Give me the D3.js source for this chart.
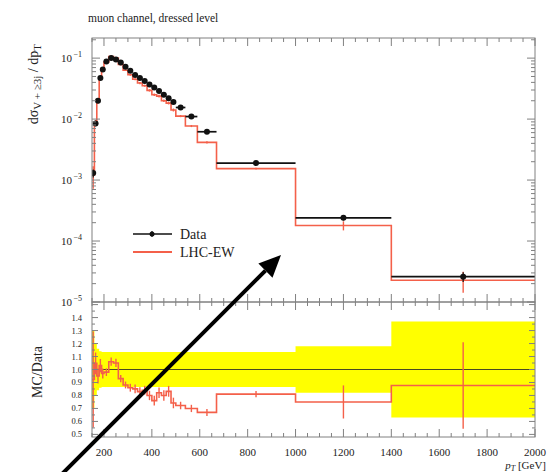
<!DOCTYPE html>
<html>
<head>
<meta charset="utf-8">
<script src="https://cdn.jsdelivr.net/npm/d3@7"></script>
<style>
body { margin: 0; background: #fff; }
svg { display: block; font-family: "Liberation Serif", "DejaVu Serif", serif; }
</style>
</head>
<body>
<div class="canva"></div>
<script>
// bin edges (GeV)
const binEdges = [150,160,170,180,190,200,220,240,260,280,300,320,340,360,380,400,420,440,460,480,500,540,590,670,1000,1400,2000];
// measured cross section per bin
const dataVals = [1.3e-3,8.5e-3,2.0e-2,4.7e-2,6.5e-2,8.8e-2,0.100,0.095,0.085,0.072,0.062,0.053,0.047,0.042,0.037,0.033,0.029,0.025,0.022,0.019,0.0155,0.011,0.0062,0.0019,0.00024,0.000026];
// relative data uncertainty (yellow band)
const dataRelErr = [0.30,0.20,0.16,0.14,0.135,0.135,0.135,0.135,0.135,0.135,0.135,0.135,0.135,0.135,0.135,0.135,0.135,0.135,0.135,0.135,0.135,0.135,0.135,0.135,0.18,0.37];
// LHC-EW prediction per bin
const mcVals = [1.2e-3,8.9e-3,0.019,0.0484,0.063,0.0862,0.106,0.0998,0.079,0.0634,0.0533,0.0451,0.039,0.0353,0.0296,0.0251,0.0238,0.020,0.0183,0.0141,0.0112,0.0077,0.00415,0.00154,0.00018,0.0000228];
const mcRelErr = [0.40,0.08,0.06,0.05,0.04,0.03,0.03,0.03,0.03,0.03,0.035,0.04,0.04,0.04,0.045,0.05,0.05,0.05,0.05,0.055,0.04,0.04,0.04,0.03,0.17,0.38];

const xTickLabels = [200,400,600,800,1000,1200,1400,1600,1800,2000];
const yDecades = [-5,-4,-3,-2,-1];
const ratioTickLabels = [0.5,0.6,0.7,0.8,0.9,1.0,1.1,1.2,1.3,1.4];

const W = 548, H = 472;
const pLeft = 92, pRight = 535, pTop = 38, pMid = 302, pBottom = 437;
const mcColor = "#f4604a";
const frameColor = "#808080";

const x = d3.scaleLinear().domain([150, 2000]).range([pLeft, pRight]);
const y = d3.scaleLog().domain([1e-5, Math.pow(10, -0.67)]).range([pMid, pTop]);
const yr = d3.scaleLinear().domain([0.48, 1.52]).range([pBottom, pMid]);

const svg = d3.select(".canva").append("svg")
              .attr("width", W)
              .attr("height", H);

const defs = svg.append("defs");
defs.append("clipPath").attr("id", "clipMain").append("rect")
    .attr("x", pLeft).attr("y", pTop).attr("width", pRight - pLeft).attr("height", pMid - pTop);
defs.append("clipPath").attr("id", "clipRatio").append("rect")
    .attr("x", pLeft).attr("y", pMid).attr("width", pRight - pLeft).attr("height", pBottom - pMid);

const bins = dataVals.map((d, i) => ({
  lo: binEdges[i], hi: binEdges[i+1], c: (binEdges[i] + binEdges[i+1]) / 2,
  data: d, derr: dataRelErr[i], mc: mcVals[i], merr: mcRelErr[i], ratio: mcVals[i] / d
}));
const last = bins[bins.length - 1];
const steps = f => bins.map(b => [b.lo, f(b)]).concat([[last.hi, f(last)]]);

//---------------- ratio panel
const gr = svg.append("g").attr("clip-path", "url(#clipRatio)");

gr.append("path")
  .datum(steps(b => b.derr))
  .attr("fill", "#ffff00")
  .attr("d", d3.area().x(d => x(d[0])).y0(d => yr(1 - d[1])).y1(d => yr(1 + d[1])).curve(d3.curveStepAfter));

gr.append("line")
  .attr("x1", pLeft).attr("x2", pRight)
  .attr("y1", yr(1)).attr("y2", yr(1))
  .attr("stroke", "#4a4a20").attr("stroke-width", 1);

gr.append("path")
  .datum(steps(b => b.ratio))
  .attr("fill", "none").attr("stroke", mcColor).attr("stroke-width", 1.6)
  .attr("d", d3.line().x(d => x(d[0])).y(d => yr(d[1])).curve(d3.curveStepAfter));

gr.selectAll("line.rerr").data(bins).enter().append("line")
  .attr("class", "rerr")
  .attr("x1", d => x(d.c)).attr("x2", d => x(d.c))
  .attr("y1", d => yr(d.ratio * (1 - d.merr)))
  .attr("y2", d => yr(d.ratio * (1 + d.merr)))
  .attr("stroke", mcColor).attr("stroke-width", 1.4);

//---------------- main panel
const gm = svg.append("g").attr("clip-path", "url(#clipMain)");

gm.append("path")
  .datum(steps(b => b.mc))
  .attr("fill", "none").attr("stroke", mcColor).attr("stroke-width", 1.6)
  .attr("d", d3.line().x(d => x(d[0])).y(d => y(d[1])).curve(d3.curveStepAfter));

gm.selectAll("line.merr").data(bins).enter().append("line")
  .attr("class", "merr")
  .attr("x1", d => x(d.c)).attr("x2", d => x(d.c))
  .attr("y1", d => y(d.mc * (1 - d.merr)))
  .attr("y2", d => y(d.mc * (1 + d.merr)))
  .attr("stroke", mcColor).attr("stroke-width", 1.4);

// data: horizontal bin bars, vertical errors, markers
gm.selectAll("line.dh").data(bins).enter().append("line")
  .attr("class", "dh")
  .attr("x1", d => x(d.lo)).attr("x2", d => x(d.hi))
  .attr("y1", d => y(d.data)).attr("y2", d => y(d.data))
  .attr("stroke", "#111").attr("stroke-width", 1.7);

gm.selectAll("line.dv").data(bins).enter().append("line")
  .attr("class", "dv")
  .attr("x1", d => x(d.c)).attr("x2", d => x(d.c))
  .attr("y1", d => y(d.data * (1 - d.derr * 0.5)))
  .attr("y2", d => y(d.data * (1 + d.derr * 0.5)))
  .attr("stroke", "#111").attr("stroke-width", 1.2);

gm.selectAll("circle").data(bins).enter().append("circle")
  .attr("cx", d => x(d.c)).attr("cy", d => y(d.data))
  .attr("r", 3).attr("fill", "#111");

//---------------- frames and ticks
const frame = svg.append("g").attr("stroke", frameColor).attr("fill", "none");
frame.append("rect").attr("x", pLeft).attr("y", pTop).attr("width", pRight - pLeft).attr("height", pMid - pTop);
frame.append("rect").attr("x", pLeft).attr("y", pMid).attr("width", pRight - pLeft).attr("height", pBottom - pMid);

const xMinor = d3.range(150, 2001, 50);
const isMajorX = v => v % 200 === 0;
// x ticks: top of main, both sides of divider, bottom of ratio
[[pTop, 1], [pMid, -1], [pMid, 1], [pBottom, -1]].forEach(([yy, dir]) => {
  frame.selectAll(null).data(xMinor).enter().append("line")
    .attr("x1", d => x(d)).attr("x2", d => x(d))
    .attr("y1", yy).attr("y2", d => yy + dir * (isMajorX(d) ? 8 : 4));
});

// main y log ticks
const yLogTicks = [];
yDecades.forEach(e => d3.range(1, 10).forEach(k => {
  const v = k * Math.pow(10, e);
  if (v >= 1e-5 && v <= y.domain()[1]) yLogTicks.push({ v: v, major: k === 1 });
}));
[[pLeft, 1], [pRight, -1]].forEach(([xx, dir]) => {
  frame.selectAll(null).data(yLogTicks).enter().append("line")
    .attr("x1", xx).attr("x2", d => xx + dir * (d.major ? 8 : 4))
    .attr("y1", d => y(d.v)).attr("y2", d => y(d.v));
});

// ratio y ticks
const rTicks = d3.range(0.5, 1.51, 0.05).map(v => ({ v: v, major: Math.abs(v * 10 - Math.round(v * 10)) < 1e-6 }));
[[pLeft, 1], [pRight, -1]].forEach(([xx, dir]) => {
  frame.selectAll(null).data(rTicks).enter().append("line")
    .attr("x1", xx).attr("x2", d => xx + dir * (d.major ? 6 : 3))
    .attr("y1", d => yr(d.v)).attr("y2", d => yr(d.v));
});

//---------------- labels
const txt = svg.append("g").attr("fill", "#222");

txt.selectAll("text.xl").data(xTickLabels).enter().append("text")
  .attr("class", "xl")
  .attr("x", d => x(d)).attr("y", 456)
  .attr("text-anchor", "middle").attr("font-size", 11)
  .text(d => d);

const yl = txt.selectAll("text.yl").data(yDecades).enter().append("text")
  .attr("class", "yl")
  .attr("x", 82).attr("y", d => y(Math.pow(10, d)) + 4)
  .attr("text-anchor", "end").attr("font-size", 11);
yl.append("tspan").text("10");
yl.append("tspan").attr("dy", -5).attr("font-size", 8).text(d => "\u2009\u2212" + Math.abs(d));

txt.selectAll("text.rl").data(ratioTickLabels).enter().append("text")
  .attr("class", "rl")
  .attr("x", 82).attr("y", d => yr(d) + 3)
  .attr("text-anchor", "end").attr("font-size", 8.5)
  .text(d => d.toFixed(1));

txt.append("text")
  .attr("x", 88).attr("y", 22).attr("font-size", 11.5)
  .text("muon channel, dressed level");

const ylab = txt.append("text")
  .attr("transform", "translate(38,44) rotate(-90)")
  .attr("text-anchor", "end").attr("font-size", 14);
ylab.append("tspan").text("d\u03C3");
ylab.append("tspan").attr("dy", 3).attr("font-size", 11).text("V + \u22653j");
ylab.append("tspan").attr("dy", -3).text(" / dp");
ylab.append("tspan").attr("dy", 3).attr("font-size", 11).text("T");

txt.append("text")
  .attr("transform", "translate(42,372) rotate(-90)")
  .attr("text-anchor", "middle").attr("font-size", 14)
  .text("MC/Data");

const xlab = txt.append("text")
  .attr("x", 546).attr("y", 469)
  .attr("text-anchor", "end").attr("font-size", 11);
xlab.append("tspan").attr("font-style", "italic").text("p");
xlab.append("tspan").attr("dy", 2).attr("font-size", 8).attr("font-style", "italic").text("T");
xlab.append("tspan").attr("dy", -2).text(" [GeV]");

//---------------- legend
const leg = svg.append("g");
leg.append("line").attr("x1", 133).attr("x2", 172).attr("y1", 234).attr("y2", 234)
   .attr("stroke", "#111").attr("stroke-width", 1.5);
leg.append("line").attr("x1", 152).attr("x2", 152).attr("y1", 231).attr("y2", 237)
   .attr("stroke", "#111").attr("stroke-width", 1.2);
leg.append("circle").attr("cx", 152).attr("cy", 234).attr("r", 2.5).attr("fill", "#111");
leg.append("text").attr("x", 180).attr("y", 239).attr("font-size", 14).attr("fill", "#222").text("Data");
leg.append("line").attr("x1", 133).attr("x2", 172).attr("y1", 252).attr("y2", 252)
   .attr("stroke", mcColor).attr("stroke-width", 2.2);
leg.append("text").attr("x", 180).attr("y", 257).attr("font-size", 14).attr("fill", "#222").text("LHC-EW");

//---------------- annotation arrow
const tip = [281, 255], tail = [50, 486];
const len = Math.hypot(tip[0] - tail[0], tip[1] - tail[1]);
const u = [(tip[0] - tail[0]) / len, (tip[1] - tail[1]) / len];
const base = [tip[0] - 22 * u[0], tip[1] - 22 * u[1]];
const n = [-u[1], u[0]];
svg.append("line")
   .attr("x1", tail[0]).attr("y1", tail[1]).attr("x2", base[0]).attr("y2", base[1])
   .attr("stroke", "#000").attr("stroke-width", 4);
svg.append("polygon")
   .attr("points", [tip, [base[0] + 10 * n[0], base[1] + 10 * n[1]], [base[0] - 10 * n[0], base[1] - 10 * n[1]]].map(p => p.join(",")).join(" "))
   .attr("fill", "#000");
</script>
</body>
</html>
